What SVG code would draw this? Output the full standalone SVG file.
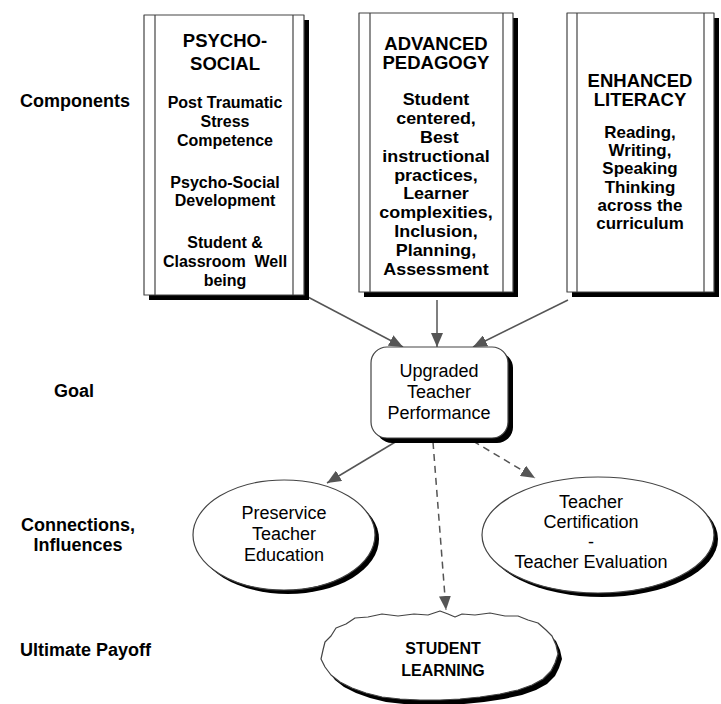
<svg xmlns="http://www.w3.org/2000/svg" width="721" height="704" viewBox="0 0 721 704">
  <defs>
    <marker id="head" viewBox="0 0 14 12" refX="14" refY="6" markerWidth="14" markerHeight="12" markerUnits="userSpaceOnUse" orient="auto">
      <path d="M0,0 L14,6 L0,12 Z" fill="#555"/>
    </marker>
    <!-- irregular cloud outline -->
    <path id="cloud" d="M448,614 L455,617 L462,614 L475,615 L490,613 L505,616 L518,616 L528,620 L538,623 L546,630 L552,636 L556,645 L558,654 L555,663 L551,671 L543,679 L532,685 L518,690 L500,694 L480,697 L460,699 L440,700 L420,700 L400,699 L382,697 L366,693 L352,688 L340,682 L331,675 L325,667 L321,659 L323,650 L325,642 L331,636 L336,628 L346,624 L355,618 L368,617 L382,614 L398,616 L414,614 L428,615 L440,611 Z"/>
    <style>
      .shadow { fill: #000; }
      .frame { fill: #fff; stroke: #444; stroke-width: 1.2; stroke-linejoin: round; }
      .rule { stroke: #444; stroke-width: 1.2; }
      .side { font-family: "Liberation Sans", Arial, sans-serif; font-weight: bold; font-size: 18px; fill: #000; }
      .title { font-family: "Liberation Sans", Arial, sans-serif; font-weight: bold; font-size: 18.5px; fill: #000; text-anchor: middle; }
      .body { font-family: "Liberation Sans", Arial, sans-serif; font-weight: bold; font-size: 16px; fill: #000; text-anchor: middle; }
      .plain { font-family: "Liberation Sans", Arial, sans-serif; font-size: 18px; fill: #000; text-anchor: middle; }
      .link { stroke: #555; stroke-width: 1.5; fill: none; marker-end: url(#head); }
      .dash { stroke-dasharray: 7 5; }
    </style>
  </defs>
  <rect width="721" height="704" fill="#fff"/>

  <!-- row captions -->
  <g id="captions">
    <text class="side" x="20" y="107">Components</text>
    <text class="side" x="54" y="397">Goal</text>
    <text class="side" x="78" y="531" text-anchor="middle">Connections,</text>
    <text class="side" x="78" y="551" text-anchor="middle">Influences</text>
    <text class="side" x="20" y="656">Ultimate Payoff</text>
  </g>

  <!-- connectors -->
  <g id="connectors">
    <line class="link" x1="306" y1="296" x2="403" y2="347"/>
    <line class="link" x1="437" y1="300" x2="437" y2="347"/>
    <line class="link" x1="568" y1="300" x2="473" y2="347"/>
    <line class="link" x1="397" y1="441" x2="327" y2="483"/>
    <line class="link dash" x1="433" y1="442" x2="446" y2="610"/>
    <line class="link dash" x1="473" y1="441" x2="535" y2="478"/>
  </g>

  <!-- component: psycho-social -->
  <g id="psycho-social">
    <rect class="shadow" x="149" y="20" width="160" height="280"/>
    <rect class="frame" x="144" y="15" width="160" height="280"/>
    <line class="rule" x1="155" y1="15" x2="155" y2="295"/>
    <line class="rule" x1="293" y1="15" x2="293" y2="295"/>
    <text class="title" x="225" y="47">PSYCHO-</text>
    <text class="title" x="225" y="70">SOCIAL</text>
    <text class="body" x="225" y="108">Post Traumatic</text>
    <text class="body" x="225" y="127">Stress</text>
    <text class="body" x="225" y="146">Competence</text>
    <text class="body" x="225" y="188">Psycho-Social</text>
    <text class="body" x="225" y="206">Development</text>
    <text class="body" x="225" y="248">Student &amp;</text>
    <text class="body" x="225" y="267" xml:space="preserve">Classroom  Well</text>
    <text class="body" x="225" y="286">being</text>
  </g>

  <!-- component: advanced pedagogy -->
  <g id="advanced-pedagogy">
    <rect class="shadow" x="364" y="18" width="154" height="279"/>
    <rect class="frame" x="359" y="13" width="154" height="279"/>
    <line class="rule" x1="370" y1="13" x2="370" y2="292"/>
    <line class="rule" x1="503" y1="13" x2="503" y2="292"/>
    <text class="title" x="436" y="50">ADVANCED</text>
    <text class="title" x="436" y="69">PEDAGOGY</text>
    <!-- body lines set slightly wide -->
    <g transform="translate(436,0) scale(1.12,1) translate(-436,0)">
      <text class="body" x="436" y="105">Student</text>
      <text class="body" x="436" y="124">centered,</text>
      <text class="body" x="439" y="143">Best</text>
      <text class="body" x="436" y="162">instructional</text>
      <text class="body" x="436" y="181">practices,</text>
      <text class="body" x="436" y="199">Learner</text>
      <text class="body" x="436" y="218">complexities,</text>
      <text class="body" x="436" y="237">Inclusion,</text>
      <text class="body" x="436" y="256">Planning,</text>
      <text class="body" x="436" y="275">Assessment</text>
    </g>
  </g>

  <!-- component: enhanced literacy -->
  <g id="enhanced-literacy">
    <rect class="shadow" x="572" y="18" width="147" height="279"/>
    <rect class="frame" x="567" y="13" width="147" height="279"/>
    <line class="rule" x1="577" y1="13" x2="577" y2="292"/>
    <line class="rule" x1="704" y1="13" x2="704" y2="292"/>
    <text class="title" x="640" y="87">ENHANCED</text>
    <text class="title" x="640" y="106">LITERACY</text>
    <g transform="translate(640,0) scale(1.06,1) translate(-640,0)">
      <text class="body" x="640" y="138">Reading,</text>
      <text class="body" x="640" y="156">Writing,</text>
      <text class="body" x="640" y="174">Speaking</text>
      <text class="body" x="640" y="193">Thinking</text>
      <text class="body" x="640" y="211">across the</text>
      <text class="body" x="640" y="229">curriculum</text>
    </g>
  </g>

  <!-- goal -->
  <g id="goal">
    <rect class="shadow" x="376" y="352" width="137" height="91" rx="16"/>
    <rect class="frame" x="371" y="347" width="137" height="91" rx="16"/>
    <text class="plain" x="439" y="377">Upgraded</text>
    <text class="plain" x="439" y="398">Teacher</text>
    <text class="plain" x="439" y="419">Performance</text>
  </g>

  <!-- connection: preservice -->
  <g id="preservice">
    <ellipse class="shadow" cx="288" cy="539" rx="91" ry="55"/>
    <ellipse class="frame" cx="284" cy="535" rx="91" ry="55"/>
    <text class="plain" x="284" y="519">Preservice</text>
    <text class="plain" x="284" y="540">Teacher</text>
    <text class="plain" x="284" y="561">Education</text>
  </g>

  <!-- connection: certification / evaluation -->
  <g id="certification">
    <ellipse class="shadow" cx="602" cy="539" rx="116" ry="58"/>
    <ellipse class="frame" cx="598" cy="535" rx="116" ry="58"/>
    <text class="plain" x="591" y="508">Teacher</text>
    <text class="plain" x="591" y="528">Certification</text>
    <text class="plain" x="591" y="548">-</text>
    <text class="plain" x="591" y="568">Teacher Evaluation</text>
  </g>

  <!-- payoff cloud -->
  <g id="student-learning">
    <use href="#cloud" class="shadow" transform="translate(4,5)"/>
    <use href="#cloud" class="frame"/>
    <text class="body" x="443" y="654">STUDENT</text>
    <text class="body" x="443" y="676">LEARNING</text>
  </g>
</svg>
